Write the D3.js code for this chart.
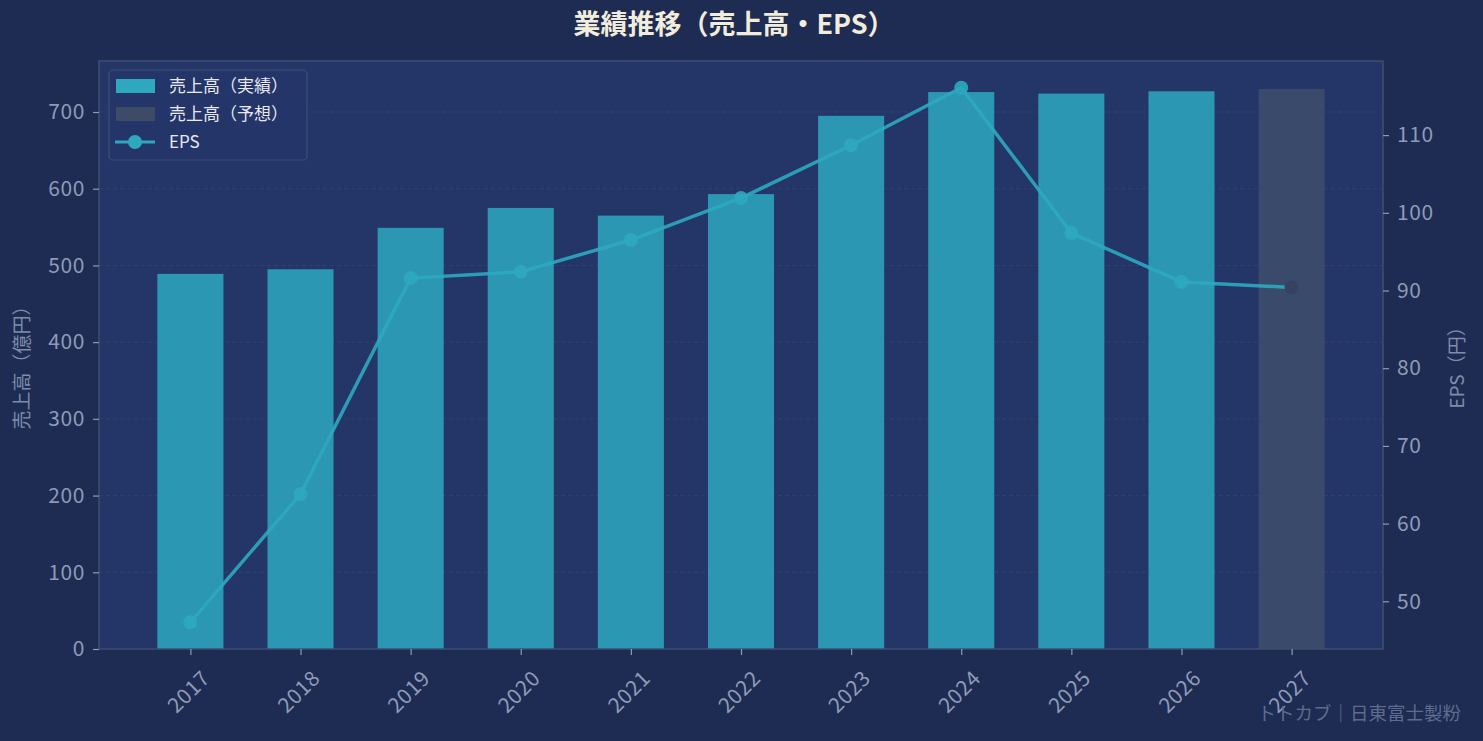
<!DOCTYPE html>
<html>
<head>
<meta charset="utf-8">
<script src="https://cdn.jsdelivr.net/npm/d3@7"></script>
<style>
  html, body { margin: 0; padding: 0; background: #1e2b52; }
  svg { display: block; font-family: "Noto Sans CJK JP", "Noto Sans", sans-serif; }
</style>
</head>
<body>
<svg id="chart" width="1483" height="741"></svg>
<script>
'use strict';

const years = ['2017', '2018', '2019', '2020', '2021', '2022', '2023', '2024', '2025', '2026', '2027'];
const sales = [489, 495, 549, 575, 565, 593, 695, 726, 724, 727, 730];
const forecast = [false, false, false, false, false, false, false, false, false, false, true];
const eps = [47.3, 63.8, 91.6, 92.4, 96.5, 101.9, 108.7, 116.1, 97.4, 91.1, 90.4];
const salesTicks = [0, 100, 200, 300, 400, 500, 600, 700];
const epsTicks = [50, 60, 70, 80, 90, 100, 110];

const W = 1483, H = 741;
const margin = {top: 61, right: 100, bottom: 92, left: 99};
const plotW = W - margin.left - margin.right;
const plotH = H - margin.top - margin.bottom;

const COL_BAR = '#2ea8bf';
const COL_FC = '#3a4a6a';
const COL_SPINE = '#3d4f73';
const COL_TICK = '#8d9bb8';

const svg = d3.select('#chart');
svg.append('rect').attr('width', W).attr('height', H).attr('fill', '#1e2b52');

const g = svg.append('g').attr('transform', 'translate(' + margin.left + ',' + margin.top + ')');

g.append('rect')
  .attr('width', plotW).attr('height', plotH)
  .attr('fill', '#243568');

// scales
const x = d3.scalePoint().domain(years).range([0, plotW]).padding(0.83);
const barW = x.step() * 0.6;

const y = d3.scaleLinear().domain([0, d3.max(sales) * 1.05]).range([plotH, 0]);

const epsExt = d3.extent(eps);
const epsPad = (epsExt[1] - epsExt[0]) * 0.05;
const y2 = d3.scaleLinear().domain([epsExt[0] - epsPad, epsExt[1] + epsPad]).range([plotH, 0]);

// grid
g.append('g')
  .selectAll('line')
  .data(salesTicks.slice(1))
  .enter()
    .append('line')
    .attr('x1', 0).attr('x2', plotW)
    .attr('y1', d => y(d)).attr('y2', d => y(d))
    .attr('stroke', '#3a4b78')
    .attr('stroke-width', 0.8)
    .attr('stroke-dasharray', '4,3')
    .attr('opacity', 0.7);

// bars
const rows = years.map((yr, i) => ({year: yr, sales: sales[i], eps: eps[i], fc: forecast[i]}));

g.append('g')
  .selectAll('rect')
  .data(rows)
  .enter()
    .append('rect')
    .attr('x', d => x(d.year) - barW / 2)
    .attr('y', d => y(d.sales))
    .attr('width', barW)
    .attr('height', d => plotH - y(d.sales))
    .attr('fill', d => d.fc ? COL_FC : COL_BAR)
    .attr('fill-opacity', d => d.fc ? 1 : 0.85);

// EPS line
const line = d3.line().x(d => x(d.year)).y(d => y2(d.eps));
g.append('path')
  .datum(rows)
  .attr('d', line)
  .attr('fill', 'none')
  .attr('stroke', COL_BAR)
  .attr('stroke-width', 3.5)
  .attr('stroke-opacity', 0.9);

g.append('g')
  .selectAll('circle')
  .data(rows)
  .enter()
    .append('circle')
    .attr('cx', d => x(d.year))
    .attr('cy', d => y2(d.eps))
    .attr('r', 7)
    .attr('fill', d => d.fc ? '#36425f' : COL_BAR)
    .attr('fill-opacity', d => d.fc ? 1 : 0.9);

// spines
g.append('rect')
  .attr('width', plotW).attr('height', plotH)
  .attr('fill', 'none')
  .attr('stroke', COL_SPINE)
  .attr('stroke-width', 1.5);

// axes
function styleAxis(sel) {
  sel.select('.domain').remove();
  sel.selectAll('.tick line').attr('stroke', COL_TICK).attr('stroke-width', 1.2);
  sel.selectAll('.tick text')
    .attr('fill', COL_TICK)
    .style('font-size', '21px')
    .style('letter-spacing', '0.6px')
    .style('font-family', '"Noto Sans CJK JP", sans-serif');
}

g.append('g')
  .call(d3.axisLeft(y).tickValues(salesTicks).tickSize(6).tickPadding(8))
  .call(styleAxis);

g.append('g')
  .attr('transform', 'translate(' + plotW + ',0)')
  .call(d3.axisRight(y2).tickValues(epsTicks).tickSize(6).tickPadding(8))
  .call(styleAxis);

const xAxis = g.append('g')
  .attr('transform', 'translate(0,' + plotH + ')')
  .call(d3.axisBottom(x).tickSize(6).tickPadding(8))
  .call(styleAxis);

xAxis.selectAll('.tick text')
  .attr('text-anchor', 'middle')
  .attr('dy', null)
  .attr('y', 0)
  .attr('transform', 'translate(-1,44) rotate(-45)')
  .attr('dominant-baseline', 'middle');

// axis titles
svg.append('text')
  .attr('transform', 'translate(24,' + (margin.top + plotH / 2 + 8) + ') rotate(-90)')
  .attr('text-anchor', 'middle')
  .attr('dominant-baseline', 'middle')
  .attr('fill', '#7f8cab')
  .style('font-size', '19px')
  .text('売上高（億円）');

svg.append('text')
  .attr('transform', 'translate(1459,' + (margin.top + plotH / 2 + 8) + ') rotate(-90)')
  .attr('text-anchor', 'middle')
  .attr('dominant-baseline', 'middle')
  .attr('fill', '#7f8cab')
  .style('font-size', '19px')
  .text('EPS（円）');

// title
svg.append('text')
  .attr('x', 734).attr('y', 27)
  .attr('text-anchor', 'middle')
  .attr('dominant-baseline', 'middle')
  .attr('fill', '#f2ecdc')
  .style('font-size', '27px')
  .style('font-weight', 'bold')
  .text('業績推移（売上高・EPS）');

// legend
const lg = svg.append('g').attr('transform', 'translate(109,70)');
lg.append('rect')
  .attr('width', 198).attr('height', 90)
  .attr('rx', 4)
  .attr('fill', '#24356a')
  .attr('stroke', COL_SPINE)
  .attr('stroke-width', 1.2);

const legendItems = [
  {label: '売上高（実績）', type: 'bar', color: COL_BAR},
  {label: '売上高（予想）', type: 'bar', color: '#3d4b66'},
  {label: 'EPS', type: 'line', color: COL_BAR}
];

legendItems.forEach((it, i) => {
  const cy = 16 + i * 28;
  if (it.type === 'bar') {
    lg.append('rect')
      .attr('x', 7).attr('y', cy - 7)
      .attr('width', 39).attr('height', 14)
      .attr('fill', it.color);
  } else {
    lg.append('line')
      .attr('x1', 6).attr('x2', 46)
      .attr('y1', cy).attr('y2', cy)
      .attr('stroke', it.color).attr('stroke-width', 3);
    lg.append('circle')
      .attr('cx', 26).attr('cy', cy).attr('r', 7)
      .attr('fill', it.color);
  }
  lg.append('text')
    .attr('x', 60).attr('y', cy + 1)
    .attr('dominant-baseline', 'middle')
    .attr('fill', '#e9e9ee')
    .style('font-size', '17px')
    .text(it.label);
});

// watermark
svg.append('text')
  .attr('x', 1461).attr('y', 715)
  .attr('text-anchor', 'end')
  .attr('dominant-baseline', 'middle')
  .attr('fill', '#5d6c8e')
  .style('font-size', '18.5px')
  .text('トトカブ｜日東富士製粉');
</script>
</body>
</html>
